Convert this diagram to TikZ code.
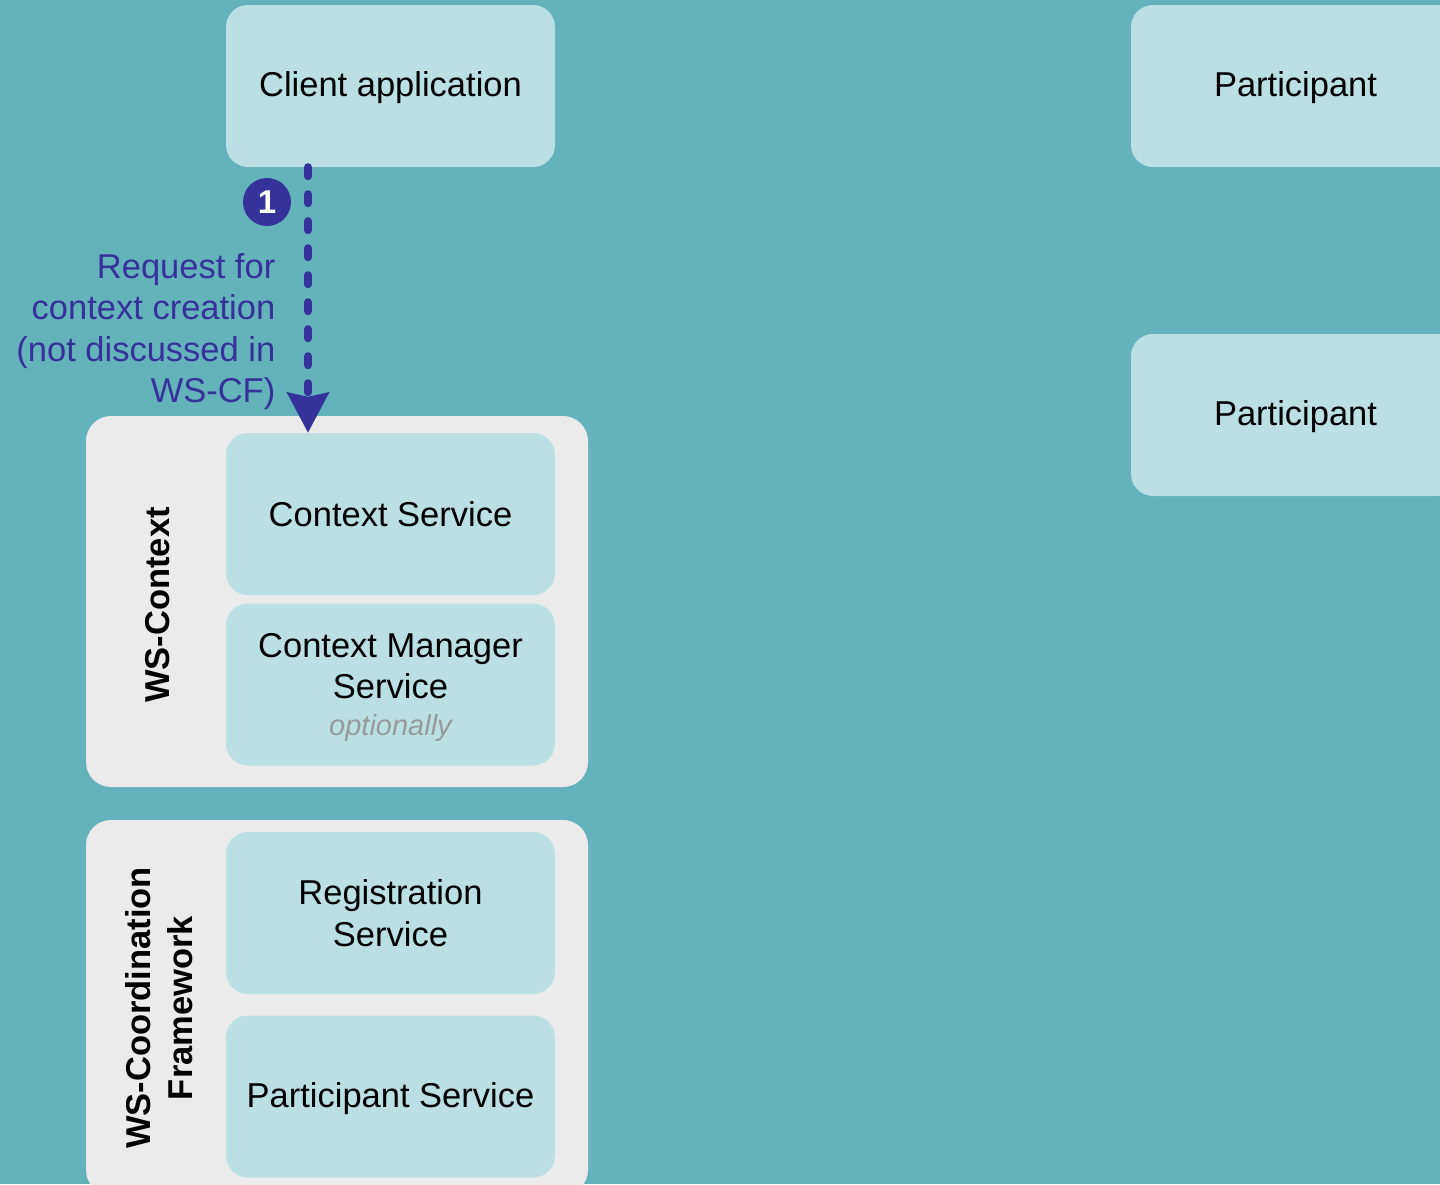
\documentclass[tikz,border=0pt]{standalone}
\usepackage{fontspec}
\setmainfont{Liberation Sans}
\usetikzlibrary{arrows.meta}
\definecolor{bgteal}{HTML}{64B2BC}
\definecolor{lightbox}{HTML}{BAE0E3}
\definecolor{container}{HTML}{EBEBEB}
\definecolor{arrowblue}{HTML}{35339A}
\definecolor{optgray}{HTML}{999999}
\begin{document}
\begin{tikzpicture}[x=1pt,y=-1pt,
  box/.style={fill=lightbox, rounded corners=22pt, minimum width=329pt, minimum height=162pt,
    inner sep=0pt, align=center, font=\fontsize{34.5}{41.5}\selectfont},
  boxtext/.style={inner sep=0pt, align=center, font=\fontsize{34.5}{41.5}\selectfont},
  groupbox/.style={fill=container, rounded corners=25pt, inner sep=0pt, minimum width=502pt},
  grouplabel/.style={rotate=90, align=center, font=\fontsize{34.5}{42}\selectfont\bfseries, inner sep=0pt},
  reqarrow/.style={draw=arrowblue, line width=8pt, line cap=round, dash pattern=on 9pt off 18pt,
    -{Stealth[length=40pt,width=41pt,inset=4pt,fill=arrowblue]}},
  badge/.style={circle, fill=arrowblue, minimum size=48pt, inner sep=0pt, text=white,
    font=\fontsize{33}{36}\selectfont\bfseries},
  reqlabel/.style={align=right, anchor=east, inner sep=0pt, text=arrowblue,
    font=\fontsize{34.5}{41.5}\selectfont}
]
\useasboundingbox (0,0) rectangle (1440,1184);
\clip (0,0) rectangle (1440,1184);
\fill[bgteal] (0,0) rectangle (1440,1184);

% containers
\node[groupbox, minimum height=371pt] (wsctx) at (337,601.5) {};
\node[groupbox, minimum height=375pt] (wscf) at (337,1007.5) {};

\node[grouplabel] (wsctxlabel) at (158,605) {WS-Context};
\node[grouplabel] (wscflabel) at (159,1008) {WS-Coordination\\Framework};

% boxes
\node[box] (client) at (390.5,86) {};
\node[boxtext] (clienttext) at (390.5,88) {Client application};
\node[box] (part1) at (1295.5,86) {};
\node[boxtext] (part1text) at (1295.5,88) {Participant};
\node[box] (part2) at (1295.5,415) {};
\node[boxtext] (part2text) at (1295.5,417) {Participant};
\node[box] (ctxsvc) at (390.5,514) {Context Service};
\node[box] (ctxmgr) at (390.5,684.5) {};
\node[boxtext] (ctxmgrtext) at (390.5,687) {Context Manager\\Service\\[-5pt]{\fontsize{29}{34}\selectfont\itshape\color{optgray}optionally}};
\node[box] (regsvc) at (390.5,913) {Registration\\Service};
\node[box] (partsvc) at (390.5,1096.5) {};
\node[boxtext] (partsvctext) at (390.5,1098.5) {Participant Service};

% request arrow
\draw[reqarrow] ([xshift=-82.5pt]client.south) -- ([xshift=-82.5pt]ctxsvc.north);
\node[badge] (one) at (267,202) {1};
\node[reqlabel] (reqtext) at (275.5,331.5) {Request for\\context creation\\(not discussed in\\WS-CF)};
\end{tikzpicture}
\end{document}
